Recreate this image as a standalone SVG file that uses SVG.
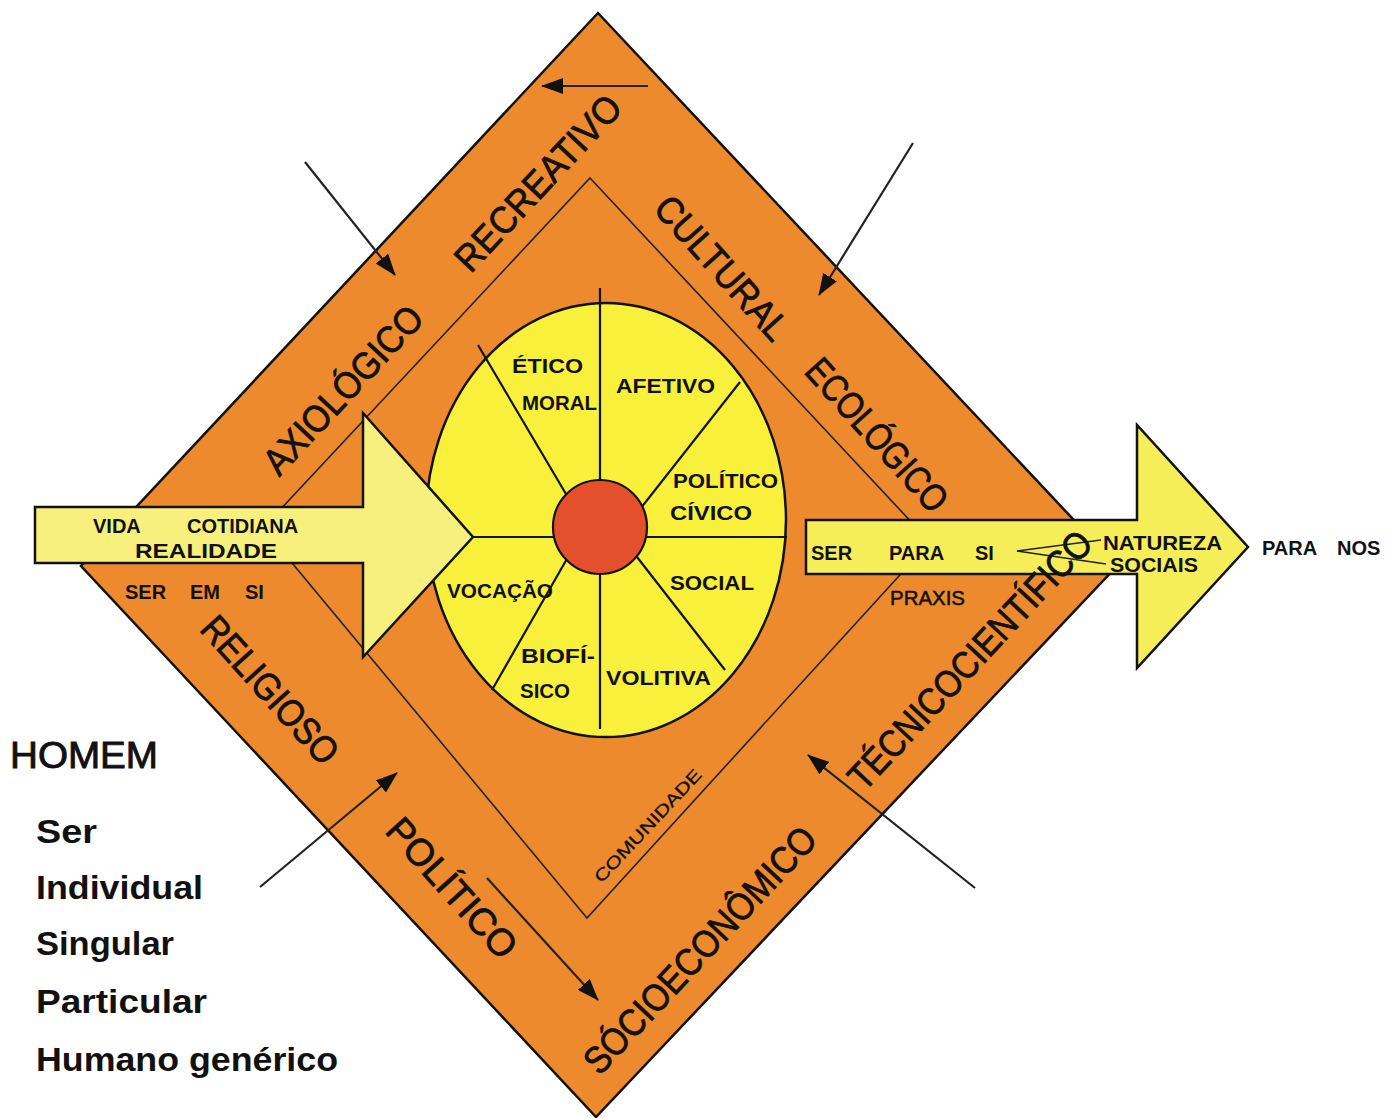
<svg xmlns="http://www.w3.org/2000/svg" width="1387" height="1118" viewBox="0 0 1387 1118">
<defs>
<style>
.lbl{font-family:"Liberation Sans",Arial,sans-serif;font-weight:bold;font-size:20px;fill:#111}
.band{font-family:"Liberation Sans",Arial,sans-serif;font-size:38px;fill:#111;stroke:#111;stroke-width:0.8;text-anchor:middle;dominant-baseline:central}
.leg{font-family:"Liberation Sans",Arial,sans-serif;font-weight:bold;font-size:34px;fill:#111}
.thin{stroke:#222;stroke-width:2;fill:none}
.spoke{stroke:#111;stroke-width:2.2;fill:none}
.conn{stroke:#222;stroke-width:2.2;fill:none;marker-end:url(#ah)}
</style>
<marker id="ah" viewBox="0 0 22 16" refX="21" refY="8" markerWidth="22" markerHeight="16" markerUnits="userSpaceOnUse" orient="auto">
<path d="M0,0 L22,8 L0,16 z" fill="#111"/>
</marker>
</defs>
<rect width="1387" height="1118" fill="#ffffff"/>

<g id="outer-diamond">
<polygon points="598,13 1117,566 596,1117 81,566" fill="#EE8A2E" stroke="#111" stroke-width="2.5"/>
</g>
<g id="inner-diamond">
<polygon points="590,178 930,542 587,918 263,528" class="thin" style="stroke-width:1.6"/>
</g>

<g id="wheel">
<ellipse cx="606" cy="520" rx="180" ry="217" fill="#F8F03A" stroke="#111" stroke-width="2.5"/>
<line class="spoke" x1="600" y1="288" x2="600" y2="482"/>
<line class="spoke" x1="600" y1="572" x2="600" y2="729"/>
<line class="spoke" x1="478" y1="345" x2="566" y2="494"/>
<line class="spoke" x1="740" y1="382" x2="637" y2="513"/>
<line class="spoke" x1="646" y1="537" x2="787" y2="537"/>
<line class="spoke" x1="637" y1="557" x2="725" y2="670"/>
<line class="spoke" x1="568" y1="557" x2="492" y2="690"/>
<line class="spoke" x1="470" y1="537" x2="556" y2="537"/>
<circle cx="600" cy="527" r="47" fill="#E5502C" stroke="#111" stroke-width="2.2"/>
<text class="lbl" x="512" y="373" textLength="71" lengthAdjust="spacingAndGlyphs">ÉTICO</text>
<text class="lbl" x="522" y="410" textLength="75" lengthAdjust="spacingAndGlyphs">MORAL</text>
<text class="lbl" x="616" y="393" textLength="99" lengthAdjust="spacingAndGlyphs">AFETIVO</text>
<text class="lbl" x="673" y="488" textLength="105" lengthAdjust="spacingAndGlyphs">POLÍTICO</text>
<text class="lbl" x="670" y="520" textLength="82" lengthAdjust="spacingAndGlyphs">CÍVICO</text>
<text class="lbl" x="670" y="590" textLength="84" lengthAdjust="spacingAndGlyphs">SOCIAL</text>
<text class="lbl" x="447" y="598" textLength="106" lengthAdjust="spacingAndGlyphs">VOCAÇÃO</text>
<text class="lbl" x="521" y="663" textLength="74" lengthAdjust="spacingAndGlyphs">BIOFÍ-</text>
<text class="lbl" x="520" y="698" textLength="50" lengthAdjust="spacingAndGlyphs">SICO</text>
<text class="lbl" x="606" y="685" textLength="105" lengthAdjust="spacingAndGlyphs">VOLITIVA</text>
</g>

<g id="arrow-in">
<polygon points="35,507 363,507 363,413 473,537 363,657 363,563 35,563" fill="#F7F07C" stroke="#111" stroke-width="2.5"/>
<text class="lbl"><tspan x="93" y="533">VIDA</tspan><tspan x="187" y="533">COTIDIANA</tspan></text>
<text class="lbl" x="135" y="558" textLength="142" lengthAdjust="spacingAndGlyphs">REALIDADE</text>
</g>
<g id="ser-em-si">
<text class="lbl"><tspan x="125" y="599">SER</tspan><tspan x="190" y="599">EM</tspan><tspan x="245" y="599">SI</tspan></text>
</g>

<g id="arrow-out">
<polygon points="806,520 1137,520 1137,425 1248,547 1137,668 1137,574 806,574" fill="#F6EE58" stroke="#111" stroke-width="2.5"/>
<text class="lbl"><tspan x="811" y="560">SER</tspan><tspan x="889" y="560">PARA</tspan><tspan x="975" y="560">SI</tspan></text>
<text class="lbl" x="1103" y="550" textLength="119" lengthAdjust="spacingAndGlyphs">NATUREZA</text>
<text class="lbl" x="1110" y="572" textLength="88" lengthAdjust="spacingAndGlyphs">SOCIAIS</text>
<line class="thin" style="stroke-width:1.6" x1="1017" y1="551" x2="1101" y2="540"/>
<line class="thin" style="stroke-width:1.6" x1="1017" y1="551" x2="1106" y2="564"/>
</g>
<g id="praxis">
<text class="lbl" x="890" y="605" textLength="75" lengthAdjust="spacingAndGlyphs" style="font-weight:normal;stroke:#111;stroke-width:0.5">PRAXIS</text>
</g>
<g id="para-nos">
<text class="lbl"><tspan x="1262" y="555">PARA</tspan><tspan x="1337" y="555">NOS</tspan></text>
</g>

<g id="band-labels">
<text class="band" transform="translate(538,183) rotate(-47)" textLength="225" lengthAdjust="spacingAndGlyphs">RECREATIVO</text>
<text class="band" transform="translate(722,268) rotate(48)" textLength="180" lengthAdjust="spacingAndGlyphs">CULTURAL</text>
<text class="band" transform="translate(877,435) rotate(48)" textLength="192" lengthAdjust="spacingAndGlyphs">ECOLÓGICO</text>
<text class="band" transform="translate(343,390) rotate(-47)" textLength="215" lengthAdjust="spacingAndGlyphs">AXIOLÓGICO</text>
<text class="band" transform="translate(270,690) rotate(48)" textLength="185" lengthAdjust="spacingAndGlyphs">RELIGIOSO</text>
<text class="band" transform="translate(452,888) rotate(48)" textLength="175" lengthAdjust="spacingAndGlyphs">POLÍTICO</text>
<text class="band" transform="translate(700,950) rotate(-47)" textLength="322" lengthAdjust="spacingAndGlyphs">SÓCIOECONÔMICO</text>
<text class="band" transform="translate(970,660) rotate(-47)" textLength="338" lengthAdjust="spacingAndGlyphs">TÉCNICOCIENTÍFICO</text>
<text class="band" transform="translate(648,826) rotate(-47)" textLength="148" lengthAdjust="spacingAndGlyphs" style="font-size:17px;stroke-width:0.3">COMUNIDADE</text>
</g>

<g id="connectors">
<line class="conn" x1="648" y1="86" x2="542" y2="86"/>
<line class="conn" x1="305" y1="162" x2="395" y2="275"/>
<line class="conn" x1="913" y1="143" x2="819" y2="295"/>
<line class="conn" x1="260" y1="887" x2="397" y2="773"/>
<line class="conn" x1="975" y1="888" x2="808" y2="755"/>
<line class="conn" x1="487" y1="878" x2="598" y2="1000"/>
</g>

<g id="homem">
<text class="leg" x="10" y="768" textLength="148" lengthAdjust="spacingAndGlyphs" style="font-weight:normal;font-size:37px;stroke:#111;stroke-width:0.9">HOMEM</text>
<text class="leg" x="36" y="843" textLength="61" lengthAdjust="spacingAndGlyphs">Ser</text>
<text class="leg" x="36" y="899" textLength="167" lengthAdjust="spacingAndGlyphs">Individual</text>
<text class="leg" x="36" y="955" textLength="138" lengthAdjust="spacingAndGlyphs">Singular</text>
<text class="leg" x="36" y="1013" textLength="171" lengthAdjust="spacingAndGlyphs">Particular</text>
<text class="leg" x="36" y="1071" textLength="302" lengthAdjust="spacingAndGlyphs">Humano genérico</text>
</g>
</svg>
